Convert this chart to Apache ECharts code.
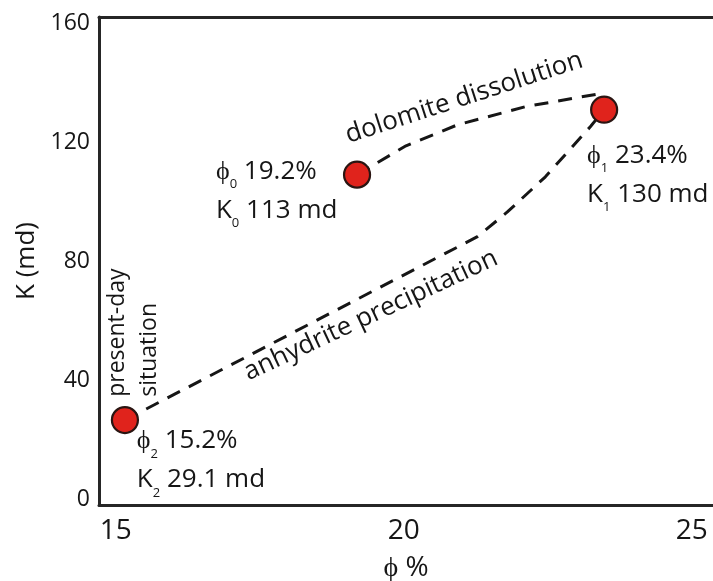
<!DOCTYPE html>
<html><head><meta charset="utf-8">
<script src="https://cdn.jsdelivr.net/npm/echarts@6/dist/echarts.min.js"></script>
<style>html,body{margin:0;padding:0;background:#fff}#c{width:713px;height:581px}</style>
</head><body><div id="c"></div>
<script>
// ---- data ----
const stageSubs = ['0', '1', '2'];
const phiValues = [19.19, 23.48, 15.16];
const kValues = [109.1, 130.9, 26.8];
const phiLabels = ['19.2%', '23.4%', '15.2%'];
const kLabels = ['113 md', '130 md', '29.1 md'];

const dissolutionX = [19.19, 20.04, 20.93, 22.11, 23.38, 23.48];
const dissolutionY = [109.1, 118.8, 125.8, 131.9, 136.2, 130.9];
const precipitationX = [15.16, 21.28, 21.80, 22.46, 23.24, 23.48];
const precipitationY = [26.8, 88.3, 96.6, 108.4, 125.2, 130.9];

const annoText = ['dolomite dissolution', 'anhydrite precipitation', 'present-day\nsituation'];
const annoX = [21.05, 19.43, 15.30];
const annoY = [134.9, 61.9, 34.6];

const xTicks = [15, 20, 25];
const yTicks = [0, 40, 80, 120, 160];

// ---- styling ----
const FONT = 'Open Sans';
const INK = '#161616';
const annoRotate = [18, 25, 90];
const annoAlign = ['center', 'center', 'left'];
const annoSize = [26, 26, 23];
const labelOffsets = [[-127, -8.5], [-3, 40.5], [26, 15.5]];

const pts = phiValues.map((x, i) => ({
  value: [x, kValues[i]],
  label: { position: labelOffsets[i] },
  sub: stageSubs[i], phi: phiLabels[i], k: kLabels[i]
}));

const chart = echarts.init(document.getElementById('c'), null, { renderer: 'canvas' });
const dash = { color: INK, width: 3, type: [14, 10] };

chart.setOption({
  animation: false,
  backgroundColor: '#fff',
  grid: { left: 99, right: 0, top: 17, bottom: 76, outerBoundsMode: 'none', containLabel: false },
  xAxis: [{
    type: 'value', min: 14.71, max: 25.37, position: 'bottom',
    axisLine: { show: true, onZero: false, lineStyle: { color: '#262626', width: 3 } },
    axisTick: { show: false }, splitLine: { show: false },
    axisLabel: { customValues: xTicks, fontSize: 28, fontFamily: FONT, color: INK, margin: 12 },
    name: 'ϕ %', nameLocation: 'middle', nameGap: 49,
    nameTextStyle: { fontSize: 28, fontFamily: FONT, color: INK }
  }, {
    type: 'value', min: 14.71, max: 25.37, position: 'top',
    axisLine: { show: true, onZero: false, lineStyle: { color: '#262626', width: 3 } },
    axisTick: { show: false }, splitLine: { show: false }, axisLabel: { show: false }
  }],
  yAxis: {
    type: 'value', min: -1.7, max: 162,
    axisLine: { show: true, onZero: false, lineStyle: { color: '#262626', width: 3 } },
    axisTick: { show: false }, splitLine: { show: false },
    axisLabel: { customValues: yTicks, fontSize: 23, fontFamily: FONT, color: INK, margin: 9 },
    name: 'K (md)', nameLocation: 'middle', nameGap: 53,
    nameTextStyle: { fontSize: 26, fontFamily: FONT, color: INK }
  },
  series: [
    {
      type: 'line', xAxisIndex: 0, z: 2, symbol: 'none', silent: true,
      data: dissolutionX.map((x, i) => [x, dissolutionY[i]]), lineStyle: dash
    },
    {
      type: 'line', xAxisIndex: 0, z: 2, symbol: 'none', silent: true,
      data: precipitationX.map((x, i) => [x, precipitationY[i]]), lineStyle: dash
    },
    {
      type: 'scatter', xAxisIndex: 0, z: 5, symbolSize: 26, silent: true,
      itemStyle: { color: '#e0231c', borderColor: '#2a1512', borderWidth: 2.2, opacity: 1 },
      data: pts,
      label: {
        show: true, align: 'left', verticalAlign: 'top',
        formatter: p => `{n|ϕ}{s|${p.data.sub}}{n| ${p.data.phi}}\n{n|K}{s|${p.data.sub}}{n| ${p.data.k}}`,
        rich: {
          n: { fontSize: 26, fontFamily: FONT, color: INK, lineHeight: 39 },
          s: { fontSize: 13, fontFamily: FONT, color: INK, lineHeight: 30, verticalAlign: 'bottom' }
        }
      }
    },
    {
      type: 'scatter', xAxisIndex: 0, z: 6, symbolSize: 1, silent: true,
      itemStyle: { color: 'rgba(0,0,0,0)' },
      data: annoText.map((t, i) => ({
        value: [annoX[i], annoY[i]], name: t,
        label: {
          rotate: annoRotate[i], align: annoAlign[i], fontSize: annoSize[i], lineHeight: 32,
          color: INK, opacity: 1
        }
      })),
      label: {
        show: true, position: 'inside', verticalAlign: 'middle',
        fontFamily: FONT, color: INK, opacity: 1, textBorderWidth: 0,
        formatter: p => p.name
      }
    }
  ]
});
</script></body></html>
